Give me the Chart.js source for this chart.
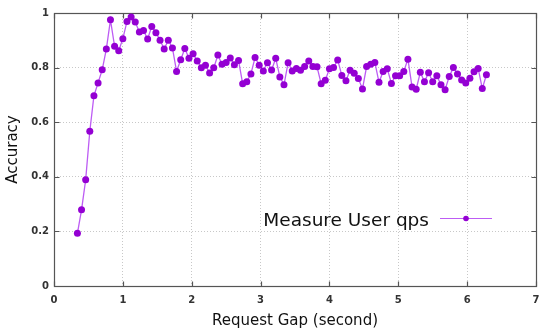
<!DOCTYPE html>
<html>
<head>
<meta charset="utf-8">
<script src="https://cdn.jsdelivr.net/npm/chart.js@4"></script>
<style>
  html, body { margin: 0; padding: 0; background: #fff; }
  #wrap { width: 550px; height: 336px; }
</style>
</head>
<body>
<div id="wrap"><canvas id="myChart" width="550" height="336"></canvas></div>
<script>
// Request gap values (seconds)
const gaps = [
  0.34, 0.40, 0.46, 0.52, 0.58, 0.64, 0.70, 0.76, 0.82, 0.88,
  0.94, 1.00, 1.06, 1.12, 1.18, 1.24, 1.30, 1.36, 1.42, 1.48,
  1.54, 1.60, 1.66, 1.72, 1.78, 1.84, 1.90, 1.96, 2.02, 2.08,
  2.14, 2.20, 2.26, 2.32, 2.38, 2.44, 2.50, 2.56, 2.62, 2.68,
  2.74, 2.80, 2.86, 2.92, 2.98, 3.04, 3.10, 3.16, 3.22, 3.28,
  3.34, 3.40, 3.46, 3.52, 3.58, 3.64, 3.70, 3.76, 3.82, 3.88,
  3.94, 4.00, 4.06, 4.12, 4.18, 4.24, 4.30, 4.36, 4.42, 4.48,
  4.54, 4.60, 4.66, 4.72, 4.78, 4.84, 4.90, 4.96, 5.02, 5.08,
  5.14, 5.20, 5.26, 5.32, 5.38, 5.44, 5.50, 5.56, 5.62, 5.68,
  5.74, 5.80, 5.86, 5.92, 5.98, 6.04, 6.10, 6.16, 6.22, 6.28
];

// Accuracy for "Measure User qps"
const accuracy = [
  0.193, 0.279, 0.389, 0.567, 0.697, 0.744, 0.792, 0.868, 0.975, 0.878,
  0.862, 0.906, 0.969, 0.985, 0.967, 0.930, 0.936, 0.905, 0.951, 0.928,
  0.900, 0.868, 0.900, 0.872, 0.786, 0.829, 0.870, 0.834, 0.851, 0.824,
  0.799, 0.809, 0.780, 0.799, 0.846, 0.812, 0.819, 0.835, 0.810, 0.826,
  0.741, 0.748, 0.777, 0.837, 0.809, 0.788, 0.818, 0.791, 0.834, 0.766,
  0.737, 0.818, 0.788, 0.797, 0.790, 0.804, 0.824, 0.804, 0.803, 0.741,
  0.754, 0.796, 0.800, 0.828, 0.771, 0.752, 0.790, 0.779, 0.760, 0.722,
  0.804, 0.812, 0.819, 0.746, 0.786, 0.796, 0.742, 0.770, 0.770, 0.786,
  0.831, 0.729, 0.721, 0.783, 0.748, 0.781, 0.748, 0.770, 0.737, 0.719,
  0.767, 0.800, 0.777, 0.755, 0.744, 0.761, 0.785, 0.797, 0.723, 0.774
];

const seriesLabel = "Measure User qps";
const xTicks = [0, 1, 2, 3, 4, 5, 6, 7];
const yTicks = [0, 0.2, 0.4, 0.6, 0.8, 1];

const lineColor = "#bd5cf4";
const pointColor = "#9400d3";
const fontFamily = "'DejaVu Sans', Verdana, sans-serif";

// gnuplot style frame: box border with inward ticks on all four sides
const framePlugin = {
  id: "frame",
  beforeDatasetsDraw(chart) {
    const { ctx, chartArea: a, scales } = chart;
    const l = Math.round(a.left) + 0.5, r = Math.round(a.right) + 0.5;
    const t = Math.round(a.top) + 0.5, b = Math.round(a.bottom) + 0.5;
    ctx.save();
    ctx.strokeStyle = "#555";
    ctx.lineWidth = 1.2;
    ctx.strokeRect(l, t, r - l, b - t);
    ctx.beginPath();
    xTicks.forEach(v => {
      const px = Math.round(scales.x.getPixelForValue(v)) + 0.5;
      ctx.moveTo(px, b); ctx.lineTo(px, b - 5);
      ctx.moveTo(px, t); ctx.lineTo(px, t + 5);
    });
    yTicks.forEach(v => {
      const py = Math.round(scales.y.getPixelForValue(v)) + 0.5;
      ctx.moveTo(l, py); ctx.lineTo(l + 5, py);
      ctx.moveTo(r, py); ctx.lineTo(r - 5, py);
    });
    ctx.stroke();
    ctx.restore();
  }
};

// key drawn inside the plot like gnuplot does
const keyPlugin = {
  id: "key",
  afterDatasetsDraw(chart) {
    const { ctx } = chart;
    ctx.save();
    ctx.font = "18.5px " + fontFamily;
    ctx.fillStyle = "#111";
    ctx.textAlign = "right";
    ctx.textBaseline = "alphabetic";
    ctx.fillText(seriesLabel, 429, 226);
    ctx.strokeStyle = lineColor;
    ctx.lineWidth = 1.2;
    ctx.beginPath();
    ctx.moveTo(440, 218.5);
    ctx.lineTo(492, 218.5);
    ctx.stroke();
    ctx.fillStyle = pointColor;
    ctx.beginPath();
    ctx.arc(466, 218.5, 2.8, 0, Math.PI * 2);
    ctx.fill();
    ctx.restore();
  }
};

const gridOpts = { color: "#c8c8c8", drawTicks: false };
const borderOpts = { display: false, dash: [1, 2] };

const ctx = document.getElementById("myChart").getContext("2d");
new Chart(ctx, {
  type: "scatter",
  data: {
    datasets: [
      {
        label: seriesLabel,
        data: gaps.map((g, i) => ({ x: g, y: accuracy[i] })),
        showLine: true,
        borderColor: lineColor,
        borderWidth: 1.3,
        backgroundColor: pointColor,
        pointBackgroundColor: pointColor,
        pointBorderWidth: 0,
        pointRadius: 3.5,
      },
    ],
  },
  options: {
    responsive: false,
    animation: false,
    layout: { padding: { top: 13, right: 14, left: 0, bottom: 0 } },
    plugins: {
      legend: { display: false },
      tooltip: { enabled: false },
    },
    scales: {
      x: {
        type: "linear",
        min: 0,
        max: 7,
        afterFit: s => { s.height = 50; },
        afterBuildTicks: s => { s.ticks = xTicks.map(v => ({ value: v })); },
        ticks: {
          padding: 8,
          color: "#333",
          font: { family: fontFamily, size: 10, weight: "bold" },
          callback: v => String(v),
        },
        grid: gridOpts,
        border: borderOpts,
        title: {
          display: true,
          text: "Request Gap (second)",
          color: "#111",
          font: { family: fontFamily, size: 15 },
          padding: { top: 0, bottom: 6 },
        },
      },
      y: {
        min: 0,
        max: 1,
        afterFit: s => { s.width = 54; },
        afterBuildTicks: s => { s.ticks = yTicks.map(v => ({ value: v })); },
        ticks: {
          padding: 5,
          color: "#333",
          font: { family: fontFamily, size: 10, weight: "bold" },
          callback: v => String(Math.round(v * 10) / 10),
        },
        grid: gridOpts,
        border: borderOpts,
        title: {
          display: true,
          text: "Accuracy",
          color: "#111",
          font: { family: fontFamily, size: 15 },
          padding: { top: 4, bottom: 0 },
        },
      },
    },
  },
  plugins: [framePlugin, keyPlugin],
});
</script>
</body>
</html>
